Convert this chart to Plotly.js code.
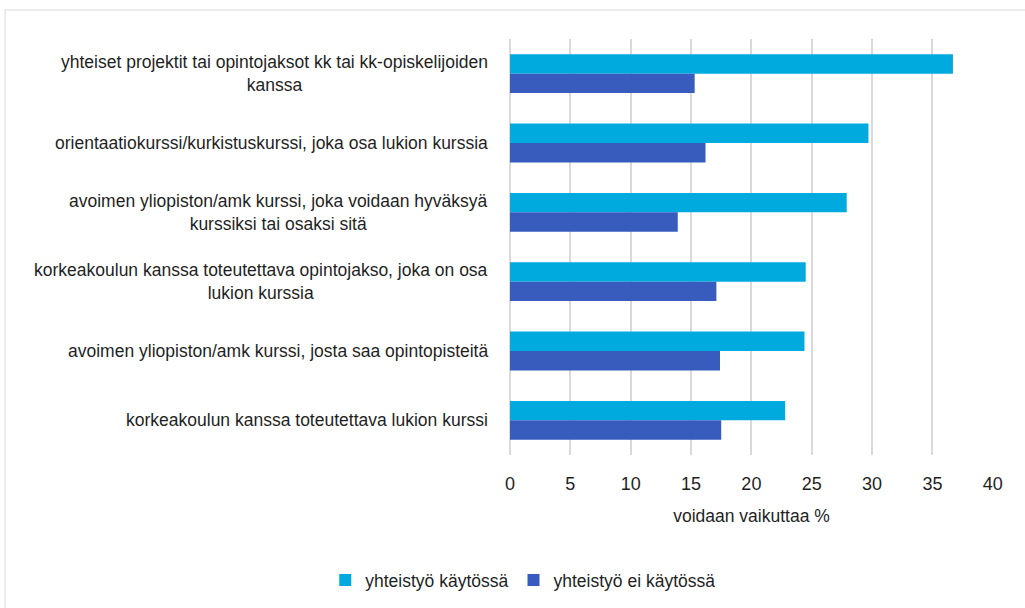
<!DOCTYPE html>
<html>
<head>
<meta charset="utf-8">
<script src="https://cdn.plot.ly/plotly-3.0.1.min.js"></script>
<style>
html, body { margin: 0; padding: 0; background: #ffffff; }
#chart { width: 1025px; height: 608px; }
</style>
</head>
<body>
<div id="chart"></div>
<script>
// ---- data ----
const categories = [
  "yhteiset projektit tai opintojaksot kk tai kk-opiskelijoiden<br>kanssa",
  "orientaatiokurssi/kurkistuskurssi, joka osa lukion kurssia",
  "avoimen yliopiston/amk kurssi, joka voidaan hyväksyä<br>kurssiksi tai osaksi sitä",
  "korkeakoulun kanssa toteutettava opintojakso, joka on osa<br>lukion kurssia",
  "avoimen yliopiston/amk kurssi, josta saa opintopisteitä",
  "korkeakoulun kanssa toteutettava lukion kurssi"
];
const categoryIds = ["c1", "c2", "c3", "c4", "c5", "c6"];
const seriesNames = ["yhteistyö käytössä", "yhteistyö ei käytössä"];
const inUse = [36.7, 29.7, 27.9, 24.5, 24.4, 22.8];
const notInUse = [15.3, 16.2, 13.9, 17.1, 17.4, 17.5];
const xTickValues = [0, 5, 10, 15, 20, 25, 30, 35, 40];
const xTitle = "voidaan vaikuttaa %";

// ---- chart ----
const FONT = '"Liberation Sans", Arial, sans-serif';
const TXT = '#1f1f1f';

const traces = [
  { type: 'bar', orientation: 'h', name: seriesNames[0], y: categoryIds, x: inUse,
    marker: { color: '#00AADF', line: { width: 0 } }, hoverinfo: 'x' },
  { type: 'bar', orientation: 'h', name: seriesNames[1], y: categoryIds, x: notInUse,
    marker: { color: '#385BBE', line: { width: 0 } }, hoverinfo: 'x' }
];

const annotations = categories.map((c, i) => ({
  xref: 'paper', yref: 'y', x: -0.041, y: categoryIds[i],
  xanchor: 'right', yanchor: 'middle', align: 'center',
  text: c, showarrow: false,
  font: { family: FONT, size: 17.5, color: TXT }
}));

const layout = {
  width: 1025, height: 608,
  margin: { l: 510, r: 32, t: 39, b: 153, pad: 0 },
  paper_bgcolor: '#ffffff', plot_bgcolor: '#ffffff',
  font: { family: FONT, size: 17.5, color: TXT },
  barmode: 'group', bargap: 0.44, bargroupgap: 0,
  showlegend: true,
  legend: {
    orientation: 'h', traceorder: 'normal',
    xref: 'container', yref: 'container',
    x: 0.51, xanchor: 'center', y: 0.046, yanchor: 'middle',
    font: { family: FONT, size: 17.5, color: TXT },
    itemwidth: 30
  },
  xaxis: {
    range: [0, 40.02], tickvals: xTickValues,
    showgrid: true, gridcolor: '#d9d9d9', gridwidth: 2,
    zeroline: true, zerolinecolor: '#d9d9d9', zerolinewidth: 2,
    showline: false, ticks: '', ticklabelstandoff: 16,
    tickfont: { family: FONT, size: 18, color: TXT },
    title: { text: xTitle, standoff: 16, font: { family: FONT, size: 17.5, color: TXT } },
    fixedrange: true
  },
  yaxis: {
    autorange: 'reversed', showticklabels: false, showgrid: false,
    zeroline: false, showline: false, ticks: '', fixedrange: true
  },
  annotations: annotations,
  shapes: [{
    type: 'rect', xref: 'paper', yref: 'paper',
    x0: -1.0455, x1: 1.09, y0: -0.5, y1: 1.0697,
    line: { color: '#d9d9d9', width: 1 }, fillcolor: 'rgba(0,0,0,0)', layer: 'below'
  }]
};

Plotly.newPlot('chart', traces, layout, { displayModeBar: false, staticPlot: true });
</script>
</body>
</html>
